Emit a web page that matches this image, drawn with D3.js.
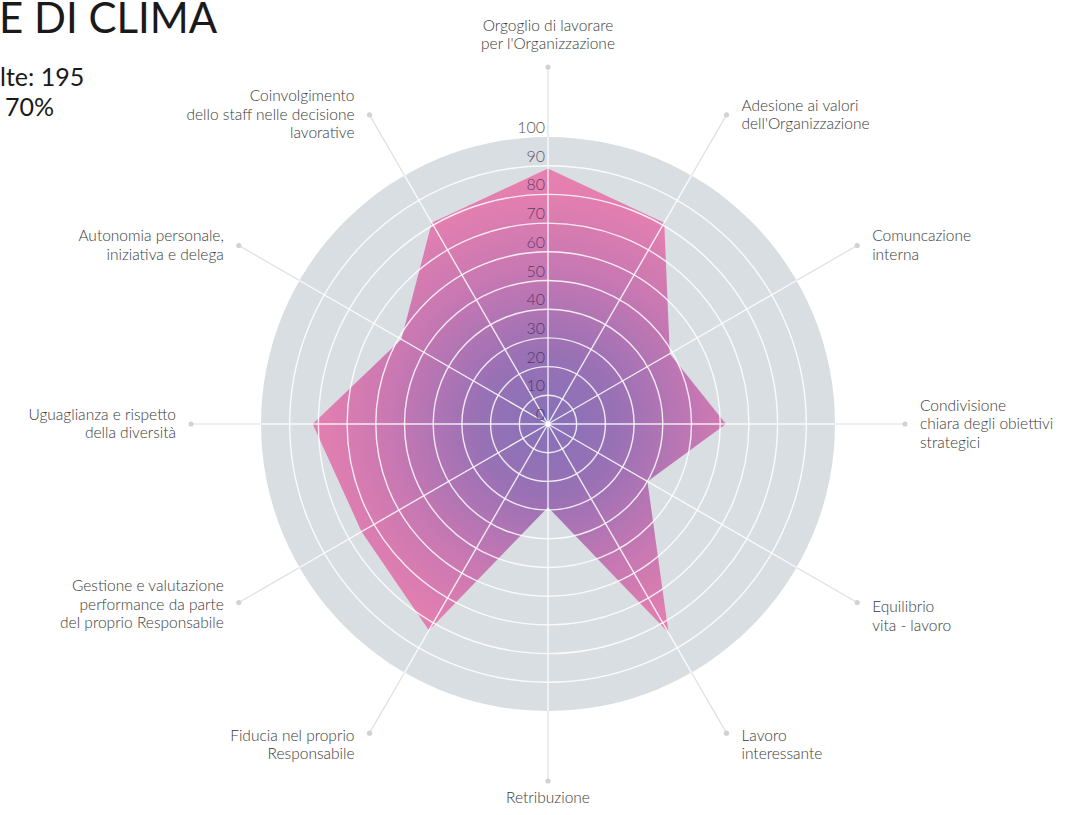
<!DOCTYPE html>
<html>
<head>
<meta charset="utf-8">
<script src="https://cdn.jsdelivr.net/npm/d3@7"></script>
<style>
  body { margin: 0; background: #fff; }
  svg { display: block; font-family: Lato, "Open Sans", sans-serif; }
</style>
</head>
<body>
<script>
// dimensioni del radar
const categories = [
  ['Orgoglio di lavorare', "per l'Organizzazione"],
  ['Adesione ai valori', "dell'Organizzazione"],
  ['Comuncazione', 'interna'],
  ['Condivisione', 'chiara degli obiettivi', 'strategici'],
  ['Equilibrio', 'vita - lavoro'],
  ['Lavoro', 'interessante'],
  ['Retribuzione'],
  ['Fiducia nel proprio', 'Responsabile'],
  ['Gestione e valutazione', 'performance da parte', 'del proprio Responsabile'],
  ['Uguaglianza e rispetto', 'della diversità'],
  ['Autonomia personale,', 'iniziativa e delega'],
  ['Coinvolgimento', 'dello staff nelle decisione', 'lavorative']
];
const values = [89, 81, 49, 62, 40, 84, 29, 83, 75, 82, 59, 81];
const ticks = [0, 10, 20, 30, 40, 50, 60, 70, 80, 90, 100];
const titleLines = ['E DI CLIMA'];
const infoLines = ['lte: 195', '70%'];

const chartWidth = 1066;
const chartHeight = 815;
const cx = 548, cy = 424;
const outer = 287;
const spoke = 357;

const svg = d3.select('body')
  .append('svg')
  .attr('width', chartWidth)
  .attr('height', chartHeight);

const scalaR = d3.scaleLinear().domain([0, 100]).range([0, outer]);
const angle = d3.scaleLinear().domain([0, categories.length]).range([0, 2 * Math.PI]);

// gradiente radiale viola -> rosa (coordinate del gruppo centrato)
const grad = svg.append('defs').append('radialGradient')
  .attr('id', 'fill-grad')
  .attr('gradientUnits', 'userSpaceOnUse')
  .attr('cx', 0).attr('cy', 0).attr('r', outer);
grad.append('stop').attr('offset', '0%').attr('stop-color', '#8771b8');
grad.append('stop').attr('offset', '25%').attr('stop-color', '#9971b5');
grad.append('stop').attr('offset', '55%').attr('stop-color', '#c878b2');
grad.append('stop').attr('offset', '80%').attr('stop-color', '#e37fb0');
grad.append('stop').attr('offset', '100%').attr('stop-color', '#ea82ae');

// titolo (tagliato a sinistra)
svg.append('text')
  .attr('x', -1).attr('y', 33)
  .attr('font-size', 42)
  .attr('fill', '#1a1a1a')
  .text(titleLines[0]);

svg.selectAll('.info')
  .data(infoLines)
  .enter()
  .append('text')
  .attr('class', 'info')
  .attr('x', (d, i) => i === 0 ? 0 : 5)
  .attr('y', (d, i) => 86 + i * 30)
  .attr('font-size', 25)
  .attr('fill', '#1a1a1a')
  .text(d => d);

const g = svg.append('g').attr('transform', `translate(${cx},${cy})`);

const pt = (i, r) => [Math.sin(angle(i)) * r, -Math.cos(angle(i)) * r];

// raggi esterni grigi con pallino
g.selectAll('.spoke-out')
  .data(categories)
  .enter()
  .append('line')
  .attr('x1', (d, i) => pt(i, outer)[0])
  .attr('y1', (d, i) => pt(i, outer)[1])
  .attr('x2', (d, i) => pt(i, spoke)[0])
  .attr('y2', (d, i) => pt(i, spoke)[1])
  .attr('stroke', '#dcdfe3')
  .attr('stroke-width', 1.2);

g.selectAll('.dot')
  .data(categories)
  .enter()
  .append('circle')
  .attr('cx', (d, i) => pt(i, spoke)[0])
  .attr('cy', (d, i) => pt(i, spoke)[1])
  .attr('r', 2.6)
  .attr('fill', '#cfd3d8');

// sfondo
g.append('circle').attr('r', outer).attr('fill', '#d9dee3');

// area dati
const radar = d3.lineRadial()
  .angle((d, i) => angle(i))
  .radius(d => scalaR(d))
  .curve(d3.curveLinearClosed);

g.append('path')
  .datum(values)
  .attr('d', radar)
  .attr('fill', 'url(#fill-grad)');

// griglia
g.selectAll('.grid')
  .data(ticks.slice(1, -1))
  .enter()
  .append('circle')
  .attr('r', d => scalaR(d))
  .attr('fill', 'none')
  .attr('stroke', '#fff')
  .attr('stroke-opacity', 0.85)
  .attr('stroke-width', 1.4);

g.selectAll('.spoke-in')
  .data(categories)
  .enter()
  .append('line')
  .attr('x1', 0).attr('y1', 0)
  .attr('x2', (d, i) => pt(i, outer)[0])
  .attr('y2', (d, i) => pt(i, outer)[1])
  .attr('stroke', '#fff')
  .attr('stroke-opacity', 0.85)
  .attr('stroke-width', 1.4);

g.append('circle').attr('r', 2.5).attr('fill', '#fff');

// etichette scala
g.selectAll('.tick')
  .data(ticks)
  .enter()
  .append('text')
  .attr('x', -3)
  .attr('y', d => -scalaR(d) - 4)
  .attr('text-anchor', 'end')
  .attr('font-size', 16)
  .attr('font-weight', 300)
  .attr('fill', d => d === 100 ? '#555' : '#3d2750')
  .attr('fill-opacity', d => d === 100 ? 1 : 0.8)
  .text(d => d);

// etichette categorie
const lineH = 18.5;
const nudge = [0, 0, 0, 0, 14, 12, 0, 12, 2, 0, 0, 0];
const labels = g.selectAll('.lab')
  .data(categories)
  .enter()
  .append('text')
  .attr('font-size', 15.5)
  .attr('font-weight', 300)
  .attr('fill', '#3a3a3a')
  .attr('text-anchor', (d, i) => {
    const s = Math.sin(angle(i));
    return Math.abs(s) < 0.01 ? 'middle' : (s > 0 ? 'start' : 'end');
  })
  .attr('transform', (d, i) => {
    const [x, y] = pt(i, spoke);
    const s = Math.sin(angle(i));
    const c = Math.cos(angle(i));
    let tx = x, ty;
    if (Math.abs(s) < 0.01) {
      ty = c > 0 ? y - 18 - (d.length - 1) * lineH : y + 22;
    } else {
      tx = x + (s > 0 ? 15 : -15);
      ty = y - (d.length - 1) * lineH / 2 + 5 + nudge[i];
    }
    return `translate(${tx},${ty})`;
  });

labels.selectAll('tspan')
  .data(d => d)
  .enter()
  .append('tspan')
  .attr('x', 0)
  .attr('y', (d, j) => j * lineH)
  .text(d => d);
</script>
</body>
</html>
